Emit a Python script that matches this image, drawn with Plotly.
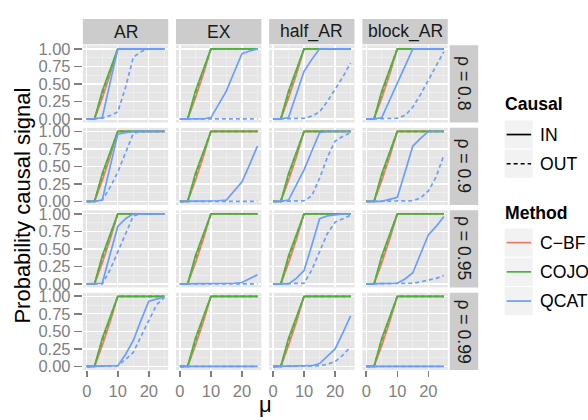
import plotly.graph_objects as go

W, H = 588, 420

# ---------------- data ----------------
mu = [0, 2.5, 5, 7.5, 10, 12.5, 15, 17.5, 20, 22.5, 25]
designs = ["AR", "EX", "half_AR", "block_AR"]
rho_labels = ["ρ = 0.8", "ρ = 0.9", "ρ = 0.95", "ρ = 0.99"]
causal_levels = ["IN", "OUT"]
methods = ["C−BF", "COJO", "QCAT"]
y_tick_vals = [0, 0.25, 0.5, 0.75, 1]
y_tick_text = ["0.00", "0.25", "0.50", "0.75", "1.00"]
x_tick_vals = [0, 10, 20]
x_tick_text = ["0", "10", "20"]

cbf_in = [0, 0, 0.30, 0.63, 1, 1, 1, 1, 1, 1, 1]
cbf_out = [0, 0, 0.33, 0.66, 1, 1, 1, 1, 1, 1, 1]
cojo_in = [0, 0, 0.40, 0.70, 1, 1, 1, 1, 1, 1, 1]
cojo_out = [0, 0, 0.37, 0.68, 1, 1, 1, 1, 1, 1, 1]

# QCAT, one list per design (AR, EX, half_AR, block_AR)
qcat_in_rho08 = [
    [0, 0, 0.02, 0.50, 1, 1, 1, 1, 1, 1, 1],
    [0, 0, 0, 0, 0.02, 0.20, 0.40, 0.67, 0.93, 0.97, 1],
    [0, 0, 0.02, 0.35, 0.68, 0.85, 1, 1, 1, 1, 1],
    [0, 0, 0.02, 0.26, 0.50, 0.75, 1, 1, 1, 1, 1],
]
qcat_out_rho08 = [
    [0, 0, 0.01, 0.05, 0.10, 0.45, 0.88, 0.96, 1, 1, 1],
    [0, 0, 0, 0, 0, 0, 0, 0, 0, 0, 0],
    [0, 0, 0, 0, 0.01, 0.04, 0.10, 0.25, 0.42, 0.60, 0.80],
    [0, 0, 0, 0, 0.01, 0.05, 0.17, 0.35, 0.56, 0.77, 0.96],
]
qcat_in_rho09 = [
    [0, 0, 0.02, 0.50, 0.96, 0.98, 1, 1, 1, 1, 1],
    [0, 0, 0, 0, 0, 0.01, 0.02, 0.15, 0.28, 0.53, 0.79],
    [0, 0, 0.02, 0.24, 0.45, 0.72, 0.98, 1, 1, 1, 1],
    [0, 0, 0, 0.03, 0.06, 0.42, 0.79, 0.90, 1, 1, 1],
]
qcat_out_rho09 = [
    [0, 0, 0.02, 0.20, 0.42, 0.70, 0.97, 1, 1, 1, 1],
    [0, 0, 0, 0, 0, 0, 0, 0, 0, 0, 0],
    [0, 0, 0, 0, 0.01, 0.08, 0.33, 0.63, 0.86, 0.93, 0.98],
    [0, 0, 0, 0, 0, 0, 0.01, 0.05, 0.15, 0.35, 0.66],
]
qcat_in_rho095 = [
    [0, 0, 0.01, 0.42, 0.82, 0.93, 1, 1, 1, 1, 1],
    [0, 0, 0, 0, 0, 0, 0, 0.01, 0.02, 0.07, 0.13],
    [0, 0, 0, 0.08, 0.19, 0.55, 0.93, 0.97, 0.99, 1, 1],
    [0, 0, 0, 0, 0.01, 0.07, 0.16, 0.43, 0.70, 0.82, 0.96],
]
qcat_out_rho095 = [
    [0, 0, 0, 0.20, 0.45, 0.72, 0.97, 1, 1, 1, 1],
    [0, 0, 0, 0, 0, 0, 0, 0, 0, 0, 0],
    [0, 0, 0, 0, 0.01, 0.20, 0.45, 0.72, 0.88, 0.93, 0.98],
    [0, 0, 0, 0, 0, 0, 0.01, 0.03, 0.05, 0.08, 0.12],
]
qcat_in_rho099 = [
    [0, 0, 0, 0, 0.01, 0.17, 0.37, 0.66, 0.93, 0.96, 0.99],
    [0, 0, 0, 0, 0, 0, 0, 0, 0, 0, 0],
    [0, 0, 0, 0, 0, 0.01, 0.04, 0.14, 0.25, 0.48, 0.72],
    [0, 0, 0, 0, 0, 0, 0, 0, 0, 0, 0],
]
qcat_out_rho099 = [
    [0, 0, 0, 0, 0.01, 0.10, 0.20, 0.43, 0.65, 0.88, 0.98],
    [0, 0, 0, 0, 0, 0, 0, 0, 0, 0, 0],
    [0, 0, 0, 0, 0, 0, 0.01, 0.03, 0.07, 0.16, 0.28],
    [0, 0, 0, 0, 0, 0, 0, 0, 0, 0, 0],
]
qcat_in = [qcat_in_rho08, qcat_in_rho09, qcat_in_rho095, qcat_in_rho099]
qcat_out = [qcat_out_rho08, qcat_out_rho09, qcat_out_rho095, qcat_out_rho099]

# ---------------- styling ----------------
method_colors = {"C−BF": "#F07A68", "COJO": "#4DB33D", "QCAT": "#6A9EFF"}
dash_of = {"IN": "solid", "OUT": "4px,3px"}
FONT = "Liberation Sans, Arial, sans-serif"
TICK_GREY = "#7F7F7F"
LW = 1.7

# geometry in page pixels
col_left = [82, 175.3, 268.6, 362]
panel_w = 85.5
row_top = [40.4, 125.1, 209.8, 294.5]
panel_h = 79.2


def px(x):
    return x / W


def py(y):
    return 1 - y / H


fig = go.Figure()
layout = {}
shapes = []
annotations = []

for r in range(4):
    for c in range(4):
        idx = r * 4 + c + 1
        sfx = "" if idx == 1 else str(idx)
        series = [
            ("C−BF", "IN", cbf_in), ("C−BF", "OUT", cbf_out),
            ("COJO", "IN", cojo_in), ("COJO", "OUT", cojo_out),
            ("QCAT", "IN", qcat_in[r][c]), ("QCAT", "OUT", qcat_out[r][c]),
        ]
        for m, cz, vals in series:
            fig.add_trace(go.Scatter(
                x=mu, y=vals, mode="lines", xaxis="x" + sfx, yaxis="y" + sfx,
                line=dict(color=method_colors[m], width=LW, dash=dash_of[cz]),
                showlegend=False, hoverinfo="skip"))
        bottom = r == 3
        left = c == 0
        layout["xaxis" + sfx] = dict(
            domain=[px(col_left[c]), px(col_left[c] + panel_w)],
            anchor="y" + sfx, range=[-1.25, 26.25],
            tickmode="array", tickvals=x_tick_vals, ticktext=x_tick_text,
            showticklabels=bottom, ticks="outside" if bottom else "",
            ticklen=6, tickwidth=1.6, tickcolor=TICK_GREY,
            tickfont=dict(family=FONT, size=16.5, color=TICK_GREY),
            showgrid=True, gridcolor="white", gridwidth=1.3,
            minor=dict(tickmode="array", tickvals=[5, 15, 25], showgrid=True,
                       gridcolor="#F2F2F2", gridwidth=0.6),
            zeroline=False, showline=False, fixedrange=True)
        layout["yaxis" + sfx] = dict(
            domain=[py(row_top[r] + panel_h), py(row_top[r])],
            anchor="x" + sfx, range=[-0.05, 1.05],
            tickmode="array", tickvals=y_tick_vals, ticktext=y_tick_text,
            showticklabels=left, ticks="outside" if left else "",
            ticklen=8, tickwidth=1.6, tickcolor=TICK_GREY,
            tickfont=dict(family=FONT, size=16.5, color=TICK_GREY),
            showgrid=True, gridcolor="white", gridwidth=1.3,
            minor=dict(tickmode="array", tickvals=[0.125, 0.375, 0.625, 0.875],
                       showgrid=True, gridcolor="#F2F2F2", gridwidth=0.6),
            zeroline=False, showline=False, fixedrange=True)

# column strips
for c, name in enumerate(designs):
    shapes.append(dict(type="rect", xref="paper", yref="paper",
                       x0=px(col_left[c]), x1=px(col_left[c] + panel_w),
                       y0=py(39.3), y1=py(13.3), fillcolor="#CCCCCC",
                       line=dict(width=0), layer="below"))
    annotations.append(dict(text=name, xref="paper", yref="paper",
                            x=px(col_left[c] + panel_w / 2), y=py(26.3),
                            xanchor="center", yanchor="middle", showarrow=False,
                            font=dict(family=FONT, size=17.6, color="#1A1A1A")))
# row strips
for r, name in enumerate(rho_labels):
    shapes.append(dict(type="rect", xref="paper", yref="paper",
                       x0=px(449.5), x1=px(478),
                       y0=py(row_top[r] + panel_h), y1=py(row_top[r]),
                       fillcolor="#CCCCCC", line=dict(width=0), layer="below"))
    annotations.append(dict(text=name, xref="paper", yref="paper",
                            x=px(463.7), y=py(row_top[r] + panel_h / 2),
                            xanchor="center", yanchor="middle", showarrow=False,
                            textangle=90,
                            font=dict(family=FONT, size=17.6, color="#1A1A1A")))

# axis titles
annotations.append(dict(text="Probability causal signal", xref="paper", yref="paper",
                        x=px(22), y=py(205), textangle=-90, showarrow=False,
                        xanchor="center", yanchor="middle",
                        font=dict(family=FONT, size=22, color="black")))
annotations.append(dict(text="μ", xref="paper", yref="paper",
                        x=px(264.7), y=py(409), showarrow=False,
                        xanchor="center", yanchor="middle",
                        font=dict(family=FONT, size=22, color="black")))

# ---------------- manual legend ----------------
KX0, KX1 = 504, 533
LX0, LX1 = 506.5, 531


def legend_block(title, title_y, first_top, entries):
    annotations.append(dict(text="<b>" + title + "</b>", xref="paper", yref="paper",
                            x=px(503), y=py(title_y), xanchor="left", yanchor="middle",
                            showarrow=False,
                            font=dict(family=FONT, size=17.6, color="black")))
    for i, (label, color, dash) in enumerate(entries):
        top = first_top + i * 30
        shapes.append(dict(type="rect", xref="paper", yref="paper",
                           x0=px(KX0), x1=px(KX1), y0=py(top + 30), y1=py(top),
                           fillcolor="#F2F2F2", line=dict(color="white", width=1)))
        cy = top + 15
        shapes.append(dict(type="line", xref="paper", yref="paper",
                           x0=px(LX0), x1=px(LX1), y0=py(cy), y1=py(cy),
                           line=dict(color=color, width=LW, dash=dash)))
        annotations.append(dict(text=label, xref="paper", yref="paper",
                                x=px(537.5), y=py(cy), xanchor="left", yanchor="middle",
                                showarrow=False,
                                font=dict(family=FONT, size=17.6, color="black")))


legend_block("Causal", 101, 117,
             [(cz, "black", dash_of[cz]) for cz in causal_levels])
legend_block("Method", 212.5, 228,
             [(m, method_colors[m], "solid") for m in methods])

fig.update_layout(
    width=W, height=H, margin=dict(l=0, r=0, t=0, b=0),
    paper_bgcolor="white", plot_bgcolor="#E5E5E5",
    showlegend=False, shapes=shapes, annotations=annotations,
    font=dict(family=FONT), **layout)

# remove the default page margin so the 588x420 figure fills the window exactly
fig.write_html("out.html",
               config={"displayModeBar": False, "staticPlot": True},
               post_script="document.body.style.margin='0';"
                           "document.body.style.overflow='hidden';")
